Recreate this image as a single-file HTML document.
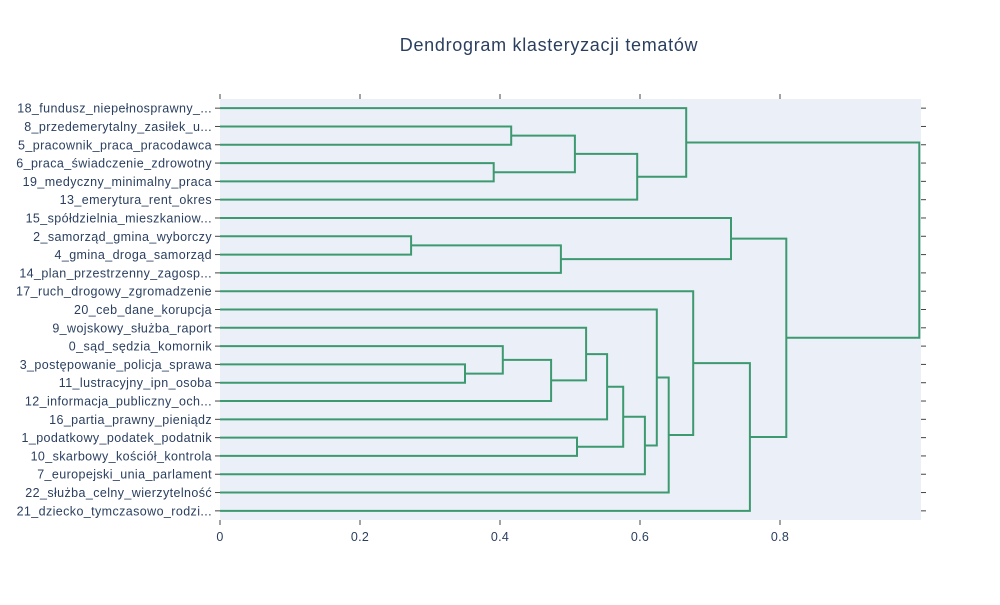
<!DOCTYPE html>
<html><head><meta charset="utf-8"><style>
body{margin:0;background:#fff;}
svg text{font-family:"Liberation Sans","DejaVu Sans",sans-serif;}
</style></head><body>
<svg id="chart" width="1000" height="600" xmlns="http://www.w3.org/2000/svg">
<rect x="0" y="0" width="1000" height="600" fill="#fff"/>
<rect x="220" y="99" width="701" height="421" fill="#ebf0f8"/>
<text x="549" y="51" text-anchor="middle" font-size="18" letter-spacing="0.7" fill="#2a3f5f">Dendrogram klasteryzacji tematów</text>
<g id="axes"></g>
<g id="links"></g>
</svg>
<script>
const leafLabels = ["18_fundusz_niepełnosprawny_...","8_przedemerytalny_zasiłek_u...","5_pracownik_praca_pracodawca","6_praca_świadczenie_zdrowotny","19_medyczny_minimalny_praca","13_emerytura_rent_okres","15_spółdzielnia_mieszkaniow...","2_samorząd_gmina_wyborczy","4_gmina_droga_samorząd","14_plan_przestrzenny_zagosp...","17_ruch_drogowy_zgromadzenie","20_ceb_dane_korupcja","9_wojskowy_służba_raport","0_sąd_sędzia_komornik","3_postępowanie_policja_sprawa","11_lustracyjny_ipn_osoba","12_informacja_publiczny_och...","16_partia_prawny_pieniądz","1_podatkowy_podatek_podatnik","10_skarbowy_kościół_kontrola","7_europejski_unia_parlament","22_służba_celny_wierzytelność","21_dziecko_tymczasowo_rodzi..."];
const mergeLeft =  [1,3,23,25,0,7,28,6,14,13,16,12,17,18,35,20,11,21,10,22,30,27];
const mergeRight = [2,4,24,5,26,8,9,29,15,31,32,33,34,19,36,37,38,39,40,41,42,43];
const mergeHeight = [0.416,0.391,0.507,0.596,0.666,0.273,0.487,0.730,0.35,0.404,0.473,0.523,0.553,0.51,0.576,0.607,0.624,0.641,0.676,0.757,0.809,0.999];
const xTicks = [0,0.2,0.4,0.6,0.8];

const NS="http://www.w3.org/2000/svg";
const X0=220,X1=920,Y0=99,Y1=520;
const n=leafLabels.length;
const xs=v=>X0+v*(X1-X0);
const ys=p=>Y0+(p/(n*10))*(Y1-Y0);
function mk(tag,attrs,parent){const e=document.createElementNS(NS,tag);for(const k in attrs)e.setAttribute(k,attrs[k]);parent.appendChild(e);return e;}
const axes=document.getElementById('axes'),links=document.getElementById('links');
const nodeY=[],nodeH=[];
leafLabels.forEach((l,i)=>{
  nodeY.push(5+10*i);nodeH.push(0);
  const y=ys(5+10*i);
  const t=mk('text',{x:212,y:y+4.5,'text-anchor':'end','font-size':12.5,'letter-spacing':0.4,fill:'#2a3f5f'},axes);
  t.textContent=l;
  
  
  const tl=mk('line',{x1:215,x2:220,y1:y,y2:y,stroke:'#444','stroke-width':1},axes);
  
  
  const tr=mk('line',{x1:921,x2:926,y1:y,y2:y,stroke:'#444','stroke-width':1},axes);
  
  
});
xTicks.forEach(v=>{
  const x=xs(v);
  const t=mk('text',{x:x,y:541,'text-anchor':'middle','font-size':12.5,'letter-spacing':0.3,fill:'#2a3f5f'},axes);
  t.textContent=String(v);
  
  
  const a=mk('line',{x1:x,x2:x,y1:520,y2:525,stroke:'#444','stroke-width':1},axes);
  
  
  const b=mk('line',{x1:x,x2:x,y1:94,y2:99,stroke:'#444','stroke-width':1},axes);
  
  
});
mergeHeight.forEach((h,k)=>{
  const a=mergeLeft[k],b=mergeRight[k];
  const ya=ys(nodeY[a]),yb=ys(nodeY[b]);
  const d=`M${xs(nodeH[a])},${ya}H${xs(h)}V${yb}H${xs(nodeH[b])}`;
  const p=mk('path',{d:d,fill:'none',stroke:'rgb(61,153,112)','stroke-width':2},links);
  
  
  nodeY.push((nodeY[a]+nodeY[b])/2);nodeH.push(h);
});
</script>
</body></html>
